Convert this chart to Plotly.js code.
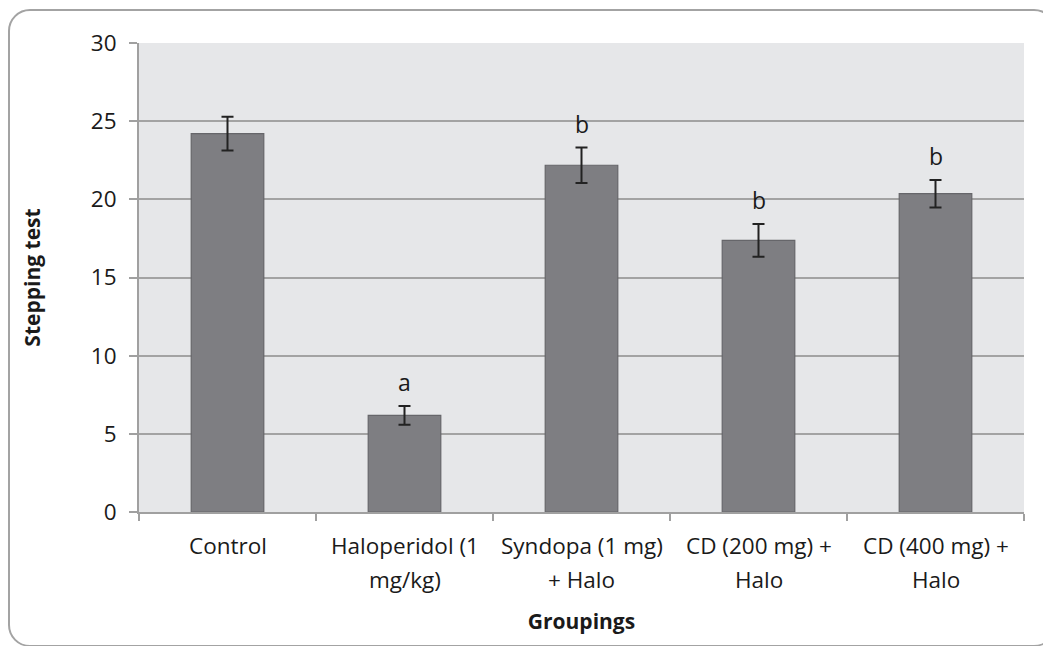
<!DOCTYPE html>
<html>
<head>
<meta charset="utf-8">
<script src="https://cdn.plot.ly/plotly-3.0.1.min.js"></script>
<style>
  html, body { margin: 0; padding: 0; background: #ffffff; overflow: hidden; }
  #chart { position: absolute; left: 0; top: 0; width: 1043px; height: 646px; }
  #frame { position: absolute; left: 8px; top: 9px; width: 1044px; height: 634px;
           border: 2px solid #a3a3a3; border-radius: 22px; pointer-events: none; }
</style>
</head>
<body>
<div id="chart"></div>
<div id="frame"></div>
<script>
const categories = ["Control", "Haloperidol (1<br>mg/kg)", "Syndopa (1 mg)<br>+ Halo", "CD (200 mg) +<br>Halo", "CD (400 mg) +<br>Halo"];
const values = [24.2, 6.18, 22.18, 17.37, 20.36];
const errors = [1.08, 0.6, 1.13, 1.05, 0.88];
const letters = ["", "a", "b", "b", "b"];
const yTicks = [0, 5, 10, 15, 20, 25, 30];

const fontFam = "Open Sans, sans-serif";

const trace = {
  type: "bar",
  x: categories,
  y: values,
  marker: { color: "#7e7e82", line: { color: "#66666a", width: 1.2 } },
  error_y: { type: "data", array: errors, visible: true, color: "#222222", thickness: 2, width: 6 },
  hoverinfo: "skip"
};

const annotations = [];
letters.forEach((l, i) => {
  if (l) {
    annotations.push({
      x: categories[i], y: values[i] + errors[i], xref: "x", yref: "y",
      text: l, showarrow: false, yanchor: "bottom", yshift: 6,
      font: { family: fontFam, size: 23, color: "#1a1a1a" }
    });
  }
});
categories.forEach((c, i) => {
  const lines = c.split("<br>");
  lines.forEach((ln, j) => {
    annotations.push({
      x: c, y: 0, xref: "x", yref: "y", text: ln, showarrow: false,
      yanchor: "middle", yshift: -33 - 34 * j,
      font: { family: fontFam, size: 22.5, color: "#1a1a1a" }
    });
  });
});

const layout = {
  width: 1043, height: 646,
  margin: { l: 139, r: 19, t: 43, b: 134 },
  paper_bgcolor: "rgba(0,0,0,0)",
  plot_bgcolor: "#e6e7e9",
  showlegend: false,
  bargap: 0.59,
  font: { family: fontFam, size: 22, color: "#1a1a1a" },
  xaxis: {
    type: "category",
    showticklabels: false,
    ticks: "outside", tickson: "boundaries", ticklen: 7, tickwidth: 2, tickcolor: "#a0a0a0",
    showline: true, linecolor: "#a0a0a0", linewidth: 2,
    showgrid: false,
    title: { text: "<b>Groupings</b>", font: { family: fontFam, size: 21, color: "#1a1a1a" }, standoff: 101 }
  },
  yaxis: {
    range: [0, 30],
    tickvals: yTicks,
    ticktext: yTicks.map(String),
    ticks: "outside", ticklen: 8, tickwidth: 2, tickcolor: "#a0a0a0",
    showline: true, linecolor: "#a0a0a0", linewidth: 2,
    showgrid: true, gridcolor: "#a3a3a3", gridwidth: 2,
    zeroline: false,
    tickfont: { family: fontFam, size: 22.5, color: "#1a1a1a" },
    ticklabelstandoff: 8,
    title: { text: "<b>Stepping test</b>", font: { family: fontFam, size: 21, color: "#1a1a1a" }, standoff: 44 }
  },
  annotations: annotations
};

Plotly.newPlot("chart", [trace], layout, { staticPlot: true, displayModeBar: false });
</script>
</body>
</html>
